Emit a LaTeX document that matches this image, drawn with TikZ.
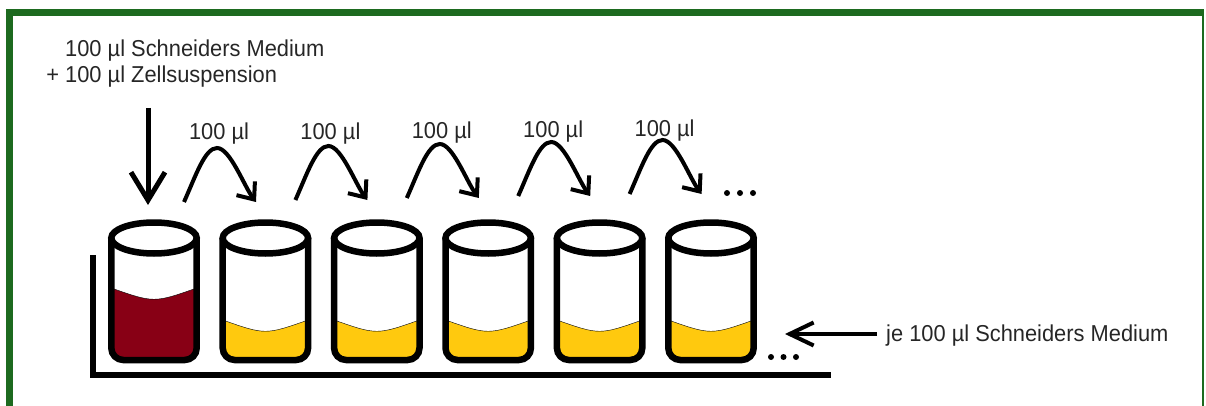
\documentclass[tikz,border=0pt]{standalone}
\usepackage{fontspec}
\usetikzlibrary{arrows.meta}
\newfontfamily\labelfont{Liberation Sans}[FakeStretch=0.95]

\definecolor{frame}{RGB}{29,106,31}
\definecolor{wine}{RGB}{136,0,21}
\definecolor{gold}{RGB}{255,201,14}

\tikzset{
  txt/.style={font=\labelfont\fontsize{23}{26}\selectfont, text=black!85, inner sep=0pt},
  feed/.style={line width=5pt, -{Straight Barb[length=28pt,width=34pt]}},
  pipette/.style={line width=4pt, -{Straight Barb[length=14pt,width=23pt]}},
  % glass with liquid: #1 colour, #2 depth of the liquid surface at the wall
  pics/glass/.style 2 args={code={
    \begin{scope}
      \clip[rounded corners=12pt] (-42.7,0) -- (-42.7,122) -- (42.7,122) -- (42.7,0) -- cycle;
      \fill[#1] (-43,#2) .. controls (0,#2+15) .. (43,#2) -- (43,130) -- (-43,130) -- cycle;
    \end{scope}
    \draw[thin] (-42.7,#2) .. controls (0,#2+15) .. (42.7,#2);
    \draw[line width=6.5pt, rounded corners=12pt] (-42.7,0) -- (-42.7,122) -- (42.7,122) -- (42.7,0);
    \draw[line width=6.5pt] (0,0) ellipse [x radius=42.7, y radius=15.5];
  }}
}

\begin{document}
\begin{tikzpicture}[x=1pt, y=-1pt]
  \useasboundingbox (0,0) rectangle (1206,406);

  % border
  \draw[frame, line width=7pt] (9,406) -- (9,13) -- (1203.7,13);
  \draw[frame, line width=2pt] (1202.7,13) -- (1202.7,406);

  % rack
  \draw[line width=6pt] (92.5,255) -- (92.5,374.5) -- (831,374.5);

  % glasses
  \pic (g1) at (154,238) {glass={wine}{50}};
  \foreach \i in {2,...,6}
    \pic (g\i) at ({154+111.4*(\i-1)},238) {glass={gold}{82}};

  % first glass gets the mixture
  \node[txt, anchor=base west] (medium) at (65,56.5) {100 µl Schneiders Medium};
  \node[txt, anchor=base west] (cells) at (65,83) {\llap{+ }100 µl Zellsuspension};
  \coordinate (drop) at (148,108);
  \coordinate (into1) at (148,205);
  \draw[feed] (drop) -- (into1);

  % transfer from one glass to the next
  \foreach \i in {1,...,5} {
    \pgfmathsetmacro\x{154+111.4*(\i-1)}
    \pgfmathsetmacro\y{202-2*(\i-1)}
    \coordinate (out\i) at (\x+30,\y);
    \coordinate (top\i) at (\x+63,\y-54);
    \coordinate (in\i) at (\x+102,\y);
    \draw[pipette] (out\i) .. controls +(12,-27) and +(-12,0) .. (top\i)
      .. controls +(13,0) and +(-12,-16) .. (in\i);
    \node[txt, anchor=base] (vol\i) at (\x+65,{140-0.8*(\i-1)}) {100 µl};
  }
  \foreach \x in {727,740,753} \fill (\x,193) circle (3);
  \foreach \x in {771,783.5,796} \fill (\x,357) circle (3);

  % medium in every glass
  \node[txt, anchor=base west] (rest) at (886,341.5) {je 100 µl Schneiders Medium};
  \coordinate (tail) at (877,334);
  \coordinate (lane) at (785,334);
  \draw[line width=4pt, -{Straight Barb[length=24pt,width=23pt]}] (tail) -- (lane);
\end{tikzpicture}
\end{document}
